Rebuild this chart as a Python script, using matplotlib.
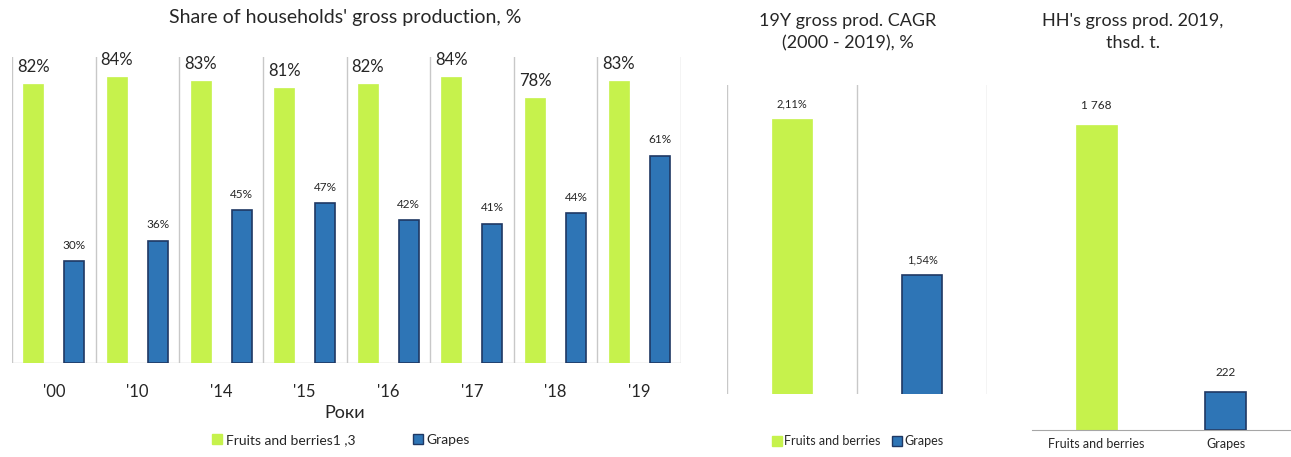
import matplotlib
matplotlib.use("Agg")
import matplotlib.pyplot as plt
from matplotlib.lines import Line2D

plt.rcParams['font.family'] = ['Lato', 'DejaVu Sans']

# ---- data ----
years = ["'00", "'10", "'14", "'15", "'16", "'17", "'18", "'19"]
share_fruits = [82, 84, 83, 81, 82, 84, 78, 83]
share_grapes = [30, 36, 45, 47, 42, 41, 44, 61]

cagr_categories = ["Fruits and berries", "Grapes"]
cagr_values = [2.11, 1.54]
cagr_labels = ["2,11%", "1,54%"]

hh_categories = ["Fruits and berries", "Grapes"]
hh_values = [1768, 222]
hh_labels = ["1 768", "222"]

GREEN = '#C6F24C'
BLUE = '#2E75B6'
EDGE = '#1F3864'
GRID = '#C8C8C8'
TXT = '#262626'

fig = plt.figure(figsize=(12.91, 4.57), dpi=100)
W, H = 1291, 457

def ax_at(x0, x1, ytop, ybot):
    return fig.add_axes([x0 / W, 1 - ybot / H, (x1 - x0) / W, (ybot - ytop) / H])

# ---- panel 1 ----
ax1 = ax_at(12, 681, 57, 363)
n = len(years)
xs = list(range(n))
bw = 0.24
off = 0.245
b1 = ax1.bar([x - off for x in xs], share_fruits, width=bw, color=GREEN, edgecolor=GREEN, linewidth=0.5)
b2 = ax1.bar([x + off for x in xs], share_grapes, width=bw, color=BLUE, edgecolor=EDGE, linewidth=1.2)
ax1.set_xlim(-0.5, n - 0.5)
ax1.set_ylim(0, 90)
for i in range(n + 1):
    ax1.axvline(i - 0.5, color=GRID, lw=1.0, zorder=0)
ax1.axhline(0, color=GRID, lw=1.0, zorder=0)
for rect, v in zip(b1, share_fruits):
    ax1.annotate(f"{v}%", (rect.get_x() + rect.get_width() / 2, v), xytext=(0, 6.5),
                 textcoords='offset points', ha='center', va='bottom', fontsize=12, color=TXT)
for rect, v in zip(b2, share_grapes):
    ax1.annotate(f"{v}%", (rect.get_x() + rect.get_width() / 2, v), xytext=(0, 7.5),
                 textcoords='offset points', ha='center', va='bottom', fontsize=8.5, color=TXT)
ax1.set_xticks(xs)
ax1.set_xticklabels(years, fontsize=12, color=TXT)
ax1.tick_params(axis='x', length=0, pad=15)
ax1.set_yticks([])
for s in ax1.spines.values():
    s.set_visible(False)
fig.text(345 / W, 1 - 18 / H, "Share of households' gross production, %", ha='center', va='center',
         fontsize=14, color=TXT)
fig.text(345 / W, 1 - 413 / H, "Роки", ha='center', va='center', fontsize=13, color=TXT)
h1 = [Line2D([], [], marker='s', ls='', color=GREEN, markersize=7),
      Line2D([], [], marker='s', ls='', color=BLUE, markeredgecolor=EDGE, markersize=7)]
fig.legend(h1, ["Fruits and berries1 ,3", "Grapes"], loc='center', bbox_to_anchor=(340 / W, 1 - 440 / H),
           ncol=2, frameon=False, fontsize=10, handletextpad=0.1, columnspacing=4.0, handlelength=1.0,
           labelcolor=TXT)

# ---- panel 2 ----
ax2 = ax_at(727, 987, 85, 394)
r2 = ax2.bar([0, 1], cagr_values, width=0.31, color=[GREEN, BLUE], edgecolor=[GREEN, EDGE], linewidth=[0.5, 1.2])
ax2.set_xlim(-0.5, 1.5)
ax2.set_ylim(1.105, 2.234)
for x in (-0.5, 0.5, 1.5):
    ax2.axvline(x, color=GRID, lw=1.0, zorder=0)
for rect, lab, v in zip(r2, cagr_labels, cagr_values):
    ax2.annotate(lab, (rect.get_x() + rect.get_width() / 2, v), xytext=(0, 7),
                 textcoords='offset points', ha='center', va='bottom', fontsize=8, color=TXT)
ax2.set_xticks([])
ax2.set_yticks([])
for s in ax2.spines.values():
    s.set_visible(False)
fig.text(848 / W, 1 - 32 / H, "19Y gross prod. CAGR\n(2000 - 2019), %", ha='center', va='center',
         fontsize=13, color=TXT, linespacing=1.5)
fig.legend(h1, cagr_categories, loc='center', bbox_to_anchor=(857 / W, 1 - 441 / H),
           ncol=2, frameon=False, fontsize=9, handletextpad=0.1, columnspacing=0.8, handlelength=1.0,
           labelcolor=TXT)

# ---- panel 3 ----
ax3 = ax_at(1032, 1290, 85, 430)
r3 = ax3.bar([0, 1], hh_values, width=0.32, color=[GREEN, BLUE], edgecolor=[GREEN, EDGE], linewidth=[0.5, 1.2])
ax3.set_xlim(-0.5, 1.5)
ax3.set_ylim(0, 2000)
for rect, lab, v in zip(r3, hh_labels, hh_values):
    ax3.annotate(lab, (rect.get_x() + rect.get_width() / 2, v), xytext=(0, 10),
                 textcoords='offset points', ha='center', va='bottom', fontsize=8.5, color=TXT)
ax3.set_xticks([0, 1])
ax3.set_xticklabels(hh_categories, fontsize=9, color=TXT)
ax3.tick_params(axis='x', length=0, pad=6)
ax3.set_yticks([])
for k, s in ax3.spines.items():
    s.set_visible(k == 'bottom')
ax3.spines['bottom'].set_color('#A6A6A6')
fig.text(1133 / W, 1 - 32 / H, "HH's gross prod. 2019,\nthsd. t.", ha='center', va='center',
         fontsize=13, color=TXT, linespacing=1.5)

fig.savefig("out.png", dpi=100, facecolor='white')
